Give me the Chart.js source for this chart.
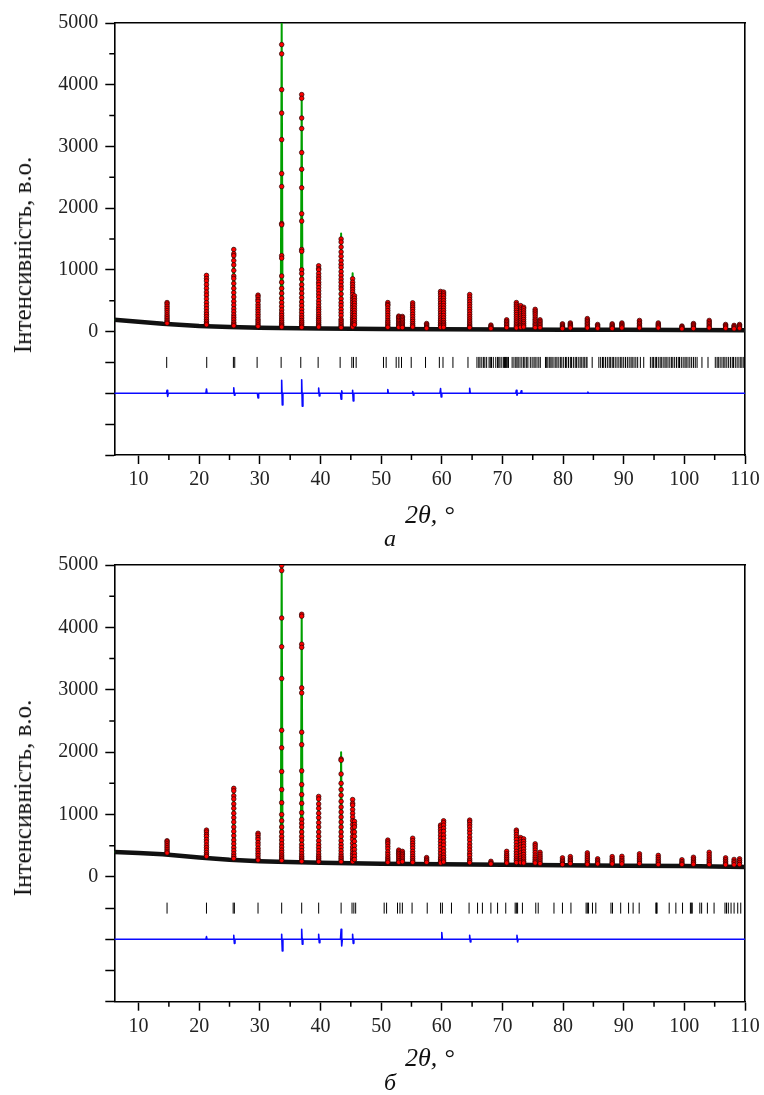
<!doctype html>
<html lang="uk">
<head>
<meta charset="utf-8">
<title>XRD Rietveld</title>
<script src="https://cdn.jsdelivr.net/npm/chart.js@4.4.1/dist/chart.umd.min.js"></script>
<style>
  html, body { margin: 0; padding: 0; background: #fff; }
  body { width: 764px; height: 1095px; position: relative; overflow: hidden; }
  .panel { position: absolute; left: 0; width: 764px; }
  .panel canvas { display: block; }
  .cap { position: absolute; left: 0; width: 780px; text-align: center; font: italic 24px 'Liberation Serif', serif; color: #111; line-height: 24px; }
  .ytitle { position: absolute; transform: translate(-50%, -50%) rotate(-90deg); white-space: nowrap;
            font: 25px 'Liberation Serif', serif; color: #111; line-height: 28px; }
</style>
</head>
<body>
<div class="panel" style="top:0"><canvas id="chartA" width="764" height="540"></canvas></div>
<div class="ytitle" style="left:23px; top:255px">Інтенсивність, в.о.</div>
<div class="cap" style="top:526px">а</div>
<div class="panel" style="top:543px"><canvas id="chartB" width="764" height="540"></canvas></div>
<div class="ytitle" style="left:23px; top:798px">Інтенсивність, в.о.</div>
<div class="cap" style="top:1070px">б</div>
<script>
// axis ticks
const X_MAJOR = [10, 20, 30, 40, 50, 60, 70, 80, 90, 100, 110];
const X_MINOR = [15, 25, 35, 45, 55, 65, 75, 85, 95, 105];
const Y_MAJOR = [-2000, -1500, -1000, -500, 0, 1000, 2000, 3000, 4000, 5000];
const Y_MINOR = [500, 1500, 2500, 3500, 4500];

// reflection positions, 2θ (same for both samples)
const peakX = [14.7, 21.2, 25.7, 29.7, 33.6, 36.9, 39.7, 43.4, 45.3, 45.6, 51.1, 52.9, 53.5, 55.2, 57.5,
  59.8, 60.3, 64.6, 68.1, 70.7, 72.3, 73.0, 73.5, 75.4, 76.2, 79.9, 81.2, 84.0, 85.7, 88.1, 89.7,
  92.6, 95.7, 99.6, 101.5, 104.1, 106.8, 108.2, 109.1];

// ---- sample а ----
const aBgX = [6, 10, 14, 20, 25, 30, 33, 40, 50, 60, 70, 80, 90, 100, 110];
const aBgY = [190, 160, 125, 92, 76, 63, 58, 50, 43, 38, 35, 30, 28, 25, 22];
const aPeakBase = [122, 92, 76, 63, 58, 54, 51, 48, 46, 46, 43, 42, 42, 41, 40, 38, 38, 37, 35, 35, 34, 34, 34,
  33, 32, 30, 30, 29, 29, 28, 28, 27, 26, 25, 24, 24, 23, 22, 22];
const aPeakCalc = [480, 920, 1350, 600, 5000, 3800, 1070, 1590, 945, 590, 470, 250, 250, 470, 135, 655, 645,
  605, 110, 195, 475, 420, 400, 365, 195, 130, 145, 215, 120, 130, 145, 185, 145, 95, 135, 185, 120, 105, 120];
const aPeakObs = [
  [470, 445, 410, 375, 340, 305, 270, 240, 210, 180, 155, 135],
  [910, 860, 820, 760, 700, 640, 590, 530, 470, 420, 370, 320, 280, 240, 200, 165, 135, 110],
  [1330, 1260, 1230, 1150, 1080, 990, 900, 860, 780, 700, 630, 560, 490, 430, 370, 320, 270, 230, 190, 150, 120, 95],
  [590, 560, 520, 490, 440, 400, 360, 320, 280, 240, 200, 170, 140, 110, 85],
  [4650, 4500, 3920, 3540, 3110, 2560, 2350, 1750, 1730, 1230, 1190, 900, 800, 700, 620, 540, 470, 410, 350, 300,
    260, 220, 185, 150, 120, 95, 75],
  [3840, 3780, 3460, 3290, 2900, 2630, 2330, 1910, 1790, 1330, 1300, 1000, 940, 850, 760, 690, 620, 550, 480, 420,
    360, 310, 260, 220, 180, 150, 120, 90, 70],
  [1066, 1020, 1000, 940, 890, 850, 800, 760, 710, 660, 610, 560, 500, 450, 400, 360, 320, 280, 240, 210, 180, 150, 120, 95, 75],
  [1500, 1450, 1370, 1290, 1220, 1150, 1090, 1040, 970, 910, 850, 800, 740, 690, 610, 530, 470, 420, 360, 310, 260,
    200, 170, 140, 110, 85, 65],
  [855, 800, 760, 720, 680, 640, 600, 555, 515, 475, 430, 390, 350, 310, 270, 230, 200, 170, 140, 120, 95, 75],
  [580, 540, 500, 460, 420, 380, 340, 300, 260, 220, 180, 140, 110],
  [470, 440, 420, 380, 340, 300, 260, 220, 180, 150, 120, 90, 70],
  [250, 230, 205, 180, 155, 130, 110, 90, 70],
  [245, 225, 200, 175, 150, 125, 105, 85, 65],
  [465, 430, 395, 360, 320, 280, 240, 200, 165, 130, 100, 75],
  [130, 110, 90, 70, 55],
  [650, 620, 580, 540, 500, 460, 420, 380, 340, 300, 260, 220, 185, 150, 120, 95, 70],
  [640, 610, 580, 540, 500, 460, 420, 380, 340, 300, 260, 220, 180, 145, 120, 95, 70],
  [600, 560, 520, 480, 440, 400, 360, 320, 280, 240, 205, 170, 140, 110, 85, 65],
  [105, 85, 65, 50],
  [190, 165, 140, 115, 90, 65],
  [470, 440, 410, 380, 345, 310, 275, 240, 205, 170, 140, 110, 85, 60],
  [420, 380, 350, 320, 285, 250, 215, 180, 150, 120, 95, 70],
  [395, 370, 335, 300, 265, 230, 195, 160, 130, 100, 75],
  [360, 330, 300, 270, 235, 200, 170, 140, 115, 90, 65],
  [190, 165, 140, 115, 90, 65],
  [125, 105, 85, 65, 50],
  [140, 120, 100, 80, 60],
  [210, 185, 160, 135, 110, 85, 60],
  [115, 95, 75, 55],
  [125, 105, 85, 65, 50],
  [140, 120, 100, 80, 60],
  [180, 155, 130, 105, 80, 60],
  [140, 120, 100, 80, 60],
  [90, 75, 60, 45],
  [130, 110, 90, 70, 50],
  [180, 155, 130, 105, 80, 60],
  [115, 95, 75, 55],
  [100, 80, 60, 45],
  [115, 95, 75, 55],
];
const aDiffX = [6, 14.6, 14.7, 14.8, 14.9, 21.1, 21.2, 21.3, 25.6, 25.7, 25.8, 25.9, 29.6, 29.7, 29.8,
  33.5, 33.6, 33.7, 33.8, 36.8, 36.9, 37.0, 37.1, 39.6, 39.7, 39.8, 39.9, 43.3, 43.4, 43.5, 43.6,
  45.2, 45.3, 45.4, 45.5, 51.0, 51.1, 51.2, 55.1, 55.2, 55.3, 55.4, 59.7, 59.8, 59.9, 60.0,
  64.5, 64.6, 64.7, 72.2, 72.3, 72.4, 72.5, 73.0, 73.1, 73.2, 84.0, 84.1, 84.2, 110];
const aDiffY = [-1000, -1000, -950, -1050, -1000, -1000, -930, -1000, -1000, -910, -1030, -1000, -1000, -1075, -1000,
  -1000, -790, -1190, -1000, -1000, -780, -1210, -1000, -1000, -915, -1045, -1000, -1000, -1095, -960, -1000,
  -1000, -950, -1125, -1000, -1000, -940, -1000, -1000, -970, -1030, -1000, -1000, -925, -1060, -1000,
  -1000, -920, -1000, -1000, -950, -1030, -1000, -1000, -960, -1000, -1000, -980, -1000, -1000];
const aBragg = [14.64, 21.24, 25.64, 25.86, 29.55, 33.51, 36.75, 39.61, 43.24, 45.17, 45.44, 45.88, 50.39, 50.83,
  52.48, 52.92, 53.36, 54.96, 57.32, 59.6, 60.2, 61.84, 64.32,
  65.8, 66.1, 66.3, 66.6, 66.9, 67.1, 67.4, 67.8, 68.0, 68.2, 68.5, 68.9, 69.2, 69.4, 69.6, 69.9,
  70.2, 70.35, 70.5, 70.65, 70.8, 71.0,
  71.6, 71.9, 72.2, 72.4, 72.6, 72.9, 73.2, 73.5, 73.7, 74.0, 74.2, 74.6, 74.9, 75.2, 75.4, 75.7, 76.0, 76.25,
  77.1, 77.3, 77.5, 77.8, 78.0, 78.2, 78.5, 78.8, 79.0, 79.3, 79.6, 79.8, 80.1, 80.4, 80.6, 80.9, 81.2, 81.4,
  81.7, 82.0, 82.2, 82.5, 82.8, 83.0, 83.3, 83.5, 83.8, 83.95, 84.8,
  85.9, 86.2, 86.5, 86.7, 87.0, 87.3, 87.6, 87.8, 88.1, 88.3, 88.6, 88.9, 89.2, 89.5, 89.7, 90.0, 90.3, 90.6,
  90.9, 91.2, 91.4, 91.7, 92.0, 92.3, 92.75, 93.3,
  94.4, 94.7, 94.9, 95.2, 95.4, 95.7, 96.0, 96.2, 96.5, 96.8, 97.0, 97.3, 97.6, 97.9, 98.1, 98.4, 98.7, 99.0,
  99.2, 99.5, 99.8, 100.1, 100.3, 100.6, 100.9, 101.2, 101.5, 101.8, 102.1, 102.9, 103.9,
  105.1, 105.4, 105.6, 105.9, 106.2, 106.5, 106.7, 107.0, 107.3, 107.6, 107.9, 108.1, 108.4, 108.7, 109.0,
  109.3, 109.5, 109.8];

// ---- sample б ----
const bBgX = [6, 10, 14, 20, 25, 30, 33, 40, 50, 60, 70, 80, 90, 100, 110];
const bBgY = [400, 385, 363, 312, 275, 252, 242, 229, 213, 203, 197, 187, 181, 176, 160];
const bPeakBase = [363, 312, 272, 250, 242, 235, 229, 224, 222, 222, 213, 212, 211, 210, 207, 204, 203, 200,
  198, 197, 195, 194, 194, 192, 191, 187, 186, 184, 183, 182, 181, 180, 178, 176, 175, 172, 168, 165, 163];
const bPeakCalc = [590, 760, 1440, 710, 5000, 4215, 1291, 2000, 1254, 900, 598, 437, 411, 630, 315, 840, 907,
  918, 256, 416, 758, 640, 614, 534, 400, 310, 330, 390, 295, 330, 335, 375, 350, 280, 320, 400, 310, 285, 295];
const bPeakObs = [
  [580, 560, 530, 500, 470, 440, 410, 385],
  [750, 720, 680, 650, 600, 560, 510, 470, 430, 390, 355, 330],
  [1420, 1380, 1300, 1250, 1170, 1100, 1020, 950, 880, 800, 730, 660, 590, 530, 470, 420, 370, 330, 295],
  [700, 670, 630, 600, 550, 510, 460, 420, 380, 340, 300, 270],
  [4990, 4910, 4150, 3690, 3180, 2350, 2070, 1690, 1400, 1190, 1000, 900, 800, 720, 650, 590, 530, 480, 430, 390,
    350, 320, 290, 265],
  [4210, 4180, 3730, 3680, 3030, 2950, 2320, 2120, 1700, 1480, 1320, 1180, 1030, 920, 860, 800, 720, 650, 590, 520,
    470, 420, 370, 330, 300, 270, 250],
  [1290, 1250, 1170, 1100, 1020, 950, 870, 800, 720, 650, 580, 520, 470, 420, 370, 330, 300, 270, 245],
  [1890, 1870, 1650, 1500, 1400, 1310, 1210, 1120, 1040, 960, 880, 800, 720, 650, 580, 520, 470, 420, 370, 330, 300, 270, 245],
  [1240, 1180, 1150, 1080, 1020, 960, 900, 840, 780, 720, 650, 600, 540, 480, 430, 380, 340, 300, 270, 245],
  [890, 840, 800, 720, 650, 570, 500, 440, 380, 330, 280],
  [590, 560, 530, 490, 450, 400, 360, 320, 290, 260, 235],
  [430, 400, 375, 350, 320, 290, 260, 235],
  [410, 380, 355, 330, 300, 270, 245],
  [620, 580, 540, 500, 460, 410, 370, 330, 295, 260, 235],
  [310, 285, 260, 235],
  [830, 800, 760, 720, 670, 620, 570, 520, 470, 420, 370, 320, 285, 250, 225],
  [900, 870, 830, 780, 730, 670, 620, 560, 510, 450, 400, 350, 310, 270, 240],
  [910, 880, 840, 800, 750, 700, 640, 590, 530, 480, 430, 380, 340, 290, 260, 230],
  [250, 225, 210],
  [410, 370, 340, 310, 280, 250, 225],
  [750, 720, 680, 640, 600, 550, 500, 460, 410, 370, 330, 290, 260, 230],
  [630, 600, 560, 520, 475, 430, 385, 340, 300, 260, 230],
  [610, 570, 530, 490, 445, 400, 360, 320, 285, 250, 225],
  [530, 500, 465, 430, 390, 350, 315, 280, 250, 225],
  [395, 360, 330, 300, 270, 240, 215],
  [305, 270, 245, 220, 200],
  [325, 290, 265, 240, 215],
  [385, 350, 320, 290, 260, 230, 205],
  [290, 260, 235, 210],
  [325, 290, 260, 235, 210],
  [330, 295, 265, 240, 210],
  [370, 335, 300, 270, 240, 215],
  [345, 310, 280, 250, 225, 200],
  [275, 245, 220, 200],
  [315, 285, 255, 230, 205],
  [395, 355, 320, 285, 255, 225, 200],
  [305, 275, 245, 220, 195],
  [280, 250, 225, 195],
  [290, 260, 230, 200],
];
const bDiffX = [6, 21.1, 21.2, 21.3, 25.6, 25.7, 25.8, 25.9, 33.5, 33.6, 33.7, 33.8, 36.8, 36.9, 37.0, 37.1,
  39.6, 39.7, 39.8, 39.9, 43.3, 43.4, 43.5, 43.6, 45.2, 45.3, 45.4, 45.5, 59.9, 60.0, 60.1,
  64.5, 64.6, 64.7, 64.8, 72.3, 72.4, 72.5, 72.6, 110];
const bDiffY = [-1000, -1000, -957, -1000, -1000, -935, -1065, -1000, -1000, -920, -1188, -1000, -1000, -839, -1080, -1000,
  -1000, -920, -1054, -1000, -1000, -839, -1108, -1000, -1000, -920, -1065, -1000, -1000, -892, -1000,
  -1000, -935, -1043, -1000, -1000, -935, -1043, -1000, -1000];
const bBragg = [14.7, 21.2, 25.6, 25.8, 29.7, 33.6, 36.9, 39.7, 43.4, 45.2, 45.5, 45.8, 50.5, 50.9, 52.7, 53.1,
  53.5, 55.1, 57.6, 59.8, 60.1, 61.6, 64.5, 65.9, 66.7, 68.1, 69.2, 70.55, 72.1, 72.3, 72.5, 73.3, 75.5, 75.9,
  78.5, 79.9, 81.3, 83.8, 84.0, 84.2, 84.85, 85.4, 87.9, 88.15, 89.5, 90.8, 91.55, 92.55, 95.3, 95.4, 95.5,
  97.5, 98.6, 99.7, 101.0, 101.15, 101.3, 102.55, 102.85, 103.8, 104.9, 106.7, 106.95, 107.25, 107.7, 108.2,
  108.8, 109.3];

const BRAGG_LEVEL = -500;
const PEAK_HW = 0.15;   // half width of drawn peak foot, deg
const SERIF = "'Liberation Serif', 'Times New Roman', serif";

function xy(xs, ys) { return xs.map((x, i) => ({ x, y: ys[i] })); }

// calculated profile: background points + a spike per reflection
function calcLine(bgX, bgY, base, top) {
  const pts = xy(bgX, bgY);
  peakX.forEach((x, i) => {
    pts.push({ x: x - PEAK_HW, y: base[i] }, { x, y: top[i] }, { x: x + PEAK_HW, y: base[i] });
  });
  return pts.sort((a, b) => a.x - b.x);
}

function obsDots(obs) {
  return peakX.flatMap((x, i) => obs[i].map((y) => ({ x, y })));
}

const minorTicks = {
  id: 'minorTicks',
  afterDraw(chart) {
    const { ctx, chartArea, scales: { x, y } } = chart;
    ctx.save();
    ctx.strokeStyle = '#000';
    ctx.lineWidth = 1.5;
    ctx.beginPath();
    for (const v of X_MINOR) {
      const px = x.getPixelForValue(v);
      ctx.moveTo(px, chartArea.bottom);
      ctx.lineTo(px, chartArea.bottom + 5);
    }
    for (const v of Y_MINOR) {
      const py = y.getPixelForValue(v);
      ctx.moveTo(chartArea.left, py);
      ctx.lineTo(chartArea.left - 5, py);
    }
    ctx.stroke();
    ctx.restore();
  },
};

function makeChart(id, d, padTop, areaBottom) {
  const canvas = document.getElementById(id);
  const H = canvas.height;
  return new Chart(canvas, {
    type: 'line',
    data: {
      datasets: [
        {
          type: 'scatter', data: d.bragg.map((x) => ({ x, y: BRAGG_LEVEL })),
          pointStyle: 'line', pointRotation: 90, pointRadius: 5.5,
          pointBorderColor: '#000', pointBorderWidth: 1, order: 1,
        },
        {
          data: xy(d.diffX, d.diffY), borderColor: '#0a0aff', borderWidth: 1.6, borderJoinStyle: 'round',
          pointRadius: 0, tension: 0, order: 1,
        },
        {
          type: 'scatter', data: obsDots(d.obs), pointStyle: 'circle', pointRadius: 2.3,
          pointBackgroundColor: '#ff0000', pointBorderColor: '#220000', pointBorderWidth: 0.7, order: 2,
        },
        {
          data: xy(d.bgX, d.bgY), borderColor: '#111', borderWidth: 4.5, borderJoinStyle: 'round',
          pointRadius: 0, tension: 0, order: 3,
        },
        {
          data: calcLine(d.bgX, d.bgY, d.base, d.calc), borderColor: '#00a000', borderWidth: 2,
          borderJoinStyle: 'round', pointRadius: 0, tension: 0, order: 4,
        },
      ],
    },
    options: {
      animation: false,
      responsive: false,
      events: [],
      layout: { padding: { top: padTop, right: 19, left: 0, bottom: 0 } },
      plugins: { legend: { display: false }, tooltip: { enabled: false } },
      scales: {
        x: {
          type: 'linear', min: 6, max: 110,
          afterBuildTicks: (s) => { s.ticks = X_MAJOR.map((v) => ({ value: v })); },
          afterFit: (s) => { s.height = H - areaBottom; },
          grid: { drawOnChartArea: false, drawTicks: true, tickLength: 9, tickColor: '#000', tickWidth: 1.5 },
          border: { color: '#000', width: 1.6 },
          ticks: { font: { family: SERIF, size: 20 }, color: '#222', padding: 4, maxRotation: 0, autoSkip: false },
          title: {
            display: true, text: '2θ, °', color: '#111',
            font: { family: SERIF, size: 26, style: 'italic' }, padding: { top: 0, bottom: 8 },
          },
        },
        y: {
          type: 'linear', min: -2000, max: 5000,
          afterBuildTicks: (s) => { s.ticks = Y_MAJOR.map((v) => ({ value: v })); },
          afterFit: (s) => { s.width = 114.3; },
          grid: { drawOnChartArea: false, drawTicks: true, tickLength: 9, tickColor: '#000', tickWidth: 1.5 },
          border: { color: '#000', width: 1.6 },
          ticks: {
            font: { family: SERIF, size: 20 }, color: '#222', padding: 7,
            callback: (v) => (v >= 0 ? String(v) : ''),
          },
        },
        x2: {
          type: 'linear', position: 'top', min: 6, max: 110,
          ticks: { display: false }, grid: { display: false },
          border: { display: true, color: '#000', width: 1.6 },
          afterFit: (s) => { s.height = 0; },
        },
        y2: {
          type: 'linear', position: 'right', min: -2000, max: 5000,
          ticks: { display: false }, grid: { display: false },
          border: { display: true, color: '#000', width: 1.6 },
          afterFit: (s) => { s.width = 0; },
        },
      },
    },
    plugins: [minorTicks],
  });
}

makeChart('chartA', {
  bgX: aBgX, bgY: aBgY, base: aPeakBase, calc: aPeakCalc, obs: aPeakObs,
  diffX: aDiffX, diffY: aDiffY, bragg: aBragg,
}, 23, 455);

makeChart('chartB', {
  bgX: bBgX, bgY: bBgY, base: bPeakBase, calc: bPeakCalc, obs: bPeakObs,
  diffX: bDiffX, diffY: bDiffY, bragg: bBragg,
}, 22, 458.7);
</script>
</body>
</html>
